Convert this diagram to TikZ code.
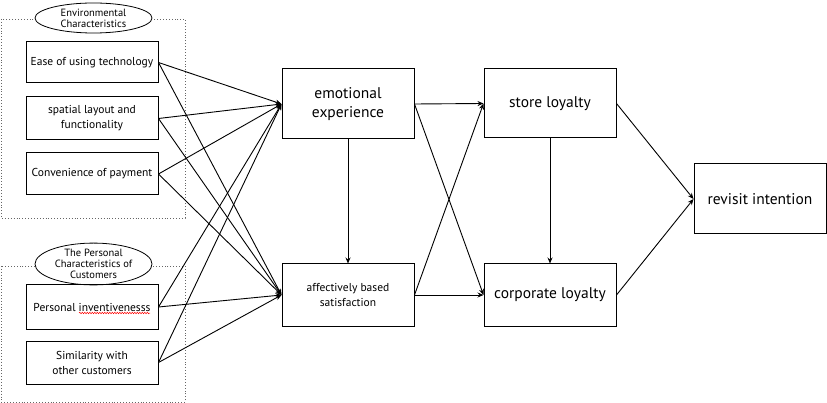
\documentclass[tikz,border=0pt]{standalone}
\usepackage{fontspec}
\setmainfont{PT Sans}
\usetikzlibrary{arrows.meta,decorations.pathmorphing,shapes.geometric}

\begin{document}
\begin{tikzpicture}[
                x=1pt, y=-1pt,
                box/.style={draw, line width=1pt, minimum width=132pt, align=center,
                    inner sep=2pt, font=\fontsize{11.5}{15}\selectfont},
                bigbox/.style={box, font=\fontsize{15.5}{19}\selectfont},
                tag/.style={draw, ellipse, fill=white, line width=0.8pt, minimum width=117pt,
                    inner sep=0pt, align=center, font=\fontsize{10.5}{11}\selectfont},
                frame/.style={draw=black!60, dotted, line width=0.9pt},
                arrow/.style={-{Stealth[length=6pt,width=5pt]}, line width=0.9pt},
                squiggle/.style={red, line width=0.5pt, decorate,
                    decoration={snake, segment length=2.5pt, amplitude=0.7pt}}
            ]
                \useasboundingbox (0,0) rectangle (827,403);
                \draw[frame] (1,19) rectangle (185,218);
                \draw[frame] (1,266) rectangle (185,402);
                \node[tag, minimum height=30pt] (envtag) at (93.5,18) {Environmental\\Characteristics};
                \node[tag, minimum height=34pt] (perstag) at (93.5,264) {The Personal\\Characteristics of\\Customers};

                \node[box, minimum height=41pt] (ease) at (92,62.5) {Ease of using technology};
                \node[box, minimum height=43pt] (spatial) at (92,118.5) {spatial layout and\\functionality};
                \node[box, minimum height=42pt] (payment) at (92,174) {Convenience of payment};
                \node[box, minimum height=44pt] (invent) at (92,307) {Personal inventivenesss};
                \node[box, minimum height=43pt] (similar) at (92,362.5) {Similarity with\\other customers};
                \draw[squiggle, shift={(invent.center)}] (-13,6) -- (58,6);

                \node[bigbox, minimum height=70pt] (emo) at (348,104) {emotional\\experience};
                \node[box, minimum height=62pt] (satis) at (348,295) {affectively based\\satisfaction};
                \node[bigbox, minimum height=69pt] (store) at (550,103.5) {store loyalty};
                \node[bigbox, minimum height=62pt] (corp) at (550,295) {corporate loyalty};
                \node[bigbox, minimum height=70pt] (revisit) at (760,199) {revisit intention};

                \draw[arrow] (ease.east) -- (emo.west);
                \draw[arrow] (ease.east) -- (satis.west);
                \draw[arrow] (spatial.east) -- (emo.west);
                \draw[arrow] (spatial.east) -- (satis.west);
                \draw[arrow] (payment.east) -- (emo.west);
                \draw[arrow] (payment.east) -- (satis.west);
                \draw[arrow] (invent.east) -- (emo.west);
                \draw[arrow] (invent.east) -- (satis.west);
                \draw[arrow] (similar.east) -- (emo.west);
                \draw[arrow] (similar.east) -- (satis.west);

                \draw[arrow] (emo.south) -- (satis.north);
                \draw[arrow] (emo.east) -- (store.west);
                \draw[arrow] (emo.east) -- (corp.west);
                \draw[arrow] (satis.east) -- (store.west);
                \draw[arrow] (satis.east) -- (corp.west);
                \draw[arrow] (store.south) -- (corp.north);
                \draw[arrow] (store.east) -- (revisit.west);
                \draw[arrow] (corp.east) -- (revisit.west);
            \end{tikzpicture}
\end{document}
